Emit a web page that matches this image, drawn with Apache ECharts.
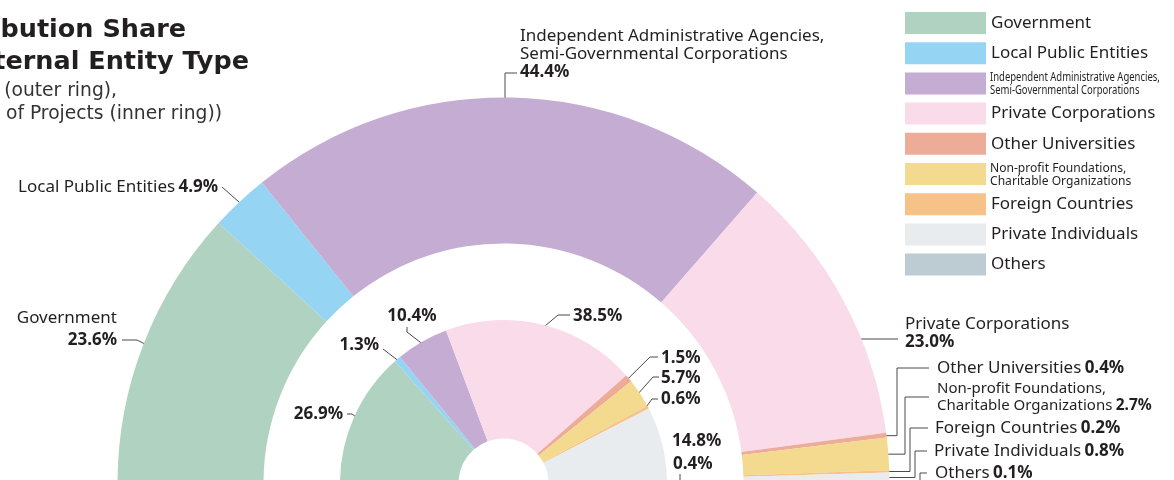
<!DOCTYPE html>
<html>
<head>
<meta charset="utf-8">
<script src="https://cdn.jsdelivr.net/npm/echarts@6/dist/echarts.min.js"></script>
<style>
html, body { margin: 0; padding: 0; background: #fff; }
#main { width: 1174px; height: 480px; }
</style>
</head>
<body>
<div id="main"></div>
<script>
var categories = [
    'Government',
    'Local Public Entities',
    'Independent Administrative Agencies, Semi-Governmental Corporations',
    'Private Corporations',
    'Other Universities',
    'Non-profit Foundations, Charitable Organizations',
    'Foreign Countries',
    'Private Individuals',
    'Others'
];
// share of amount (outer ring), %
var amountShare = [23.6, 4.9, 44.4, 23.0, 0.4, 2.7, 0.2, 0.8, 0.1];
// share of number of projects (inner ring), %
var projectShare = [26.9, 1.3, 10.4, 38.5, 1.5, 5.7, 0.6, 14.8, 0.4];

var colors = ['#b0d2c0', '#96d4f4', '#c5acd2', '#f9dbe9', '#ecac98', '#f4da8f', '#f7c287', '#e8ecef', '#bdcbd2'];

var FONT = 'Noto Sans';
var INK = '#231f20';
var CENTER = [503.5, 483.5];

// label boxes and leader bends, screen px
var outerSpots = [
    { x: 117, y: 331, align: 'right', wrap: true, loose: true, path: [[137, 340], [122, 340]] },
    { x: 218, y: 187, align: 'right', path: [[222, 187]] },
    { x: 520, y: 54, align: 'left', wrap: true, vert: 505, path: [[505, 73], [517, 73]] },
    { x: 905, y: 333, align: 'left', wrap: true, flat: 339, path: [[898, 339]] },
    { x: 937, y: 368, align: 'left', elbow: 897, path: [[897, 368], [929, 368]] },
    { x: 937, y: 397, align: 'left', small: true, elbow: 905, path: [[905, 397], [929, 397]] },
    { x: 935, y: 428, align: 'left', elbow: 910, path: [[910, 428], [928, 428]] },
    { x: 934, y: 451, align: 'left', elbow: 915, path: [[915, 451], [927, 451]] },
    { x: 935, y: 473, align: 'left', elbow: 920, path: [[920, 473], [927, 473]] }
];
var innerSpots = [
    { x: 343, y: 414, align: 'right', path: [[352, 414], [347, 414]] },
    { x: 379, y: 345, align: 'right', path: [[383, 349]] },
    { x: 412, y: 316, align: 'center', path: [[407, 332], [407, 327]] },
    { x: 573, y: 316, align: 'left', path: [[558, 315], [570, 315]] },
    { x: 661, y: 358, align: 'left', path: [[650, 357], [658, 357]] },
    { x: 661, y: 378, align: 'left', path: [[653, 377], [659, 377]] },
    { x: 661, y: 399, align: 'left', path: [[652, 399], [658, 399]] },
    { x: 672, y: 441, align: 'left', none: true },
    { x: 673, y: 464, align: 'left', path: [[680, 490], [680, 474]] }
];
// legend names that are set in a squeezed face, drawn beside the legend swatch
var squeezed = {
    'Independent Administrative Agencies, Semi-Governmental Corporations': { y: 84, sx: 0.73 },
    'Non-profit Foundations, Charitable Organizations': { y: 175, sx: 0.93 }
};

function leader(spots, inset) {
    return function (params) {
        var s = spots[params.dataIndex];
        var edge = params.labelLinePoints[0];
        var dx = edge[0] - CENTER[0], dy = edge[1] - CENTER[1];
        var r = Math.sqrt(dx * dx + dy * dy);
        var rr = r - inset;
        var a = [CENTER[0] + dx * rr / r, CENTER[1] + dy * rr / r];
        if (s.flat != null) {
            var h = CENTER[1] - s.flat;
            a = [CENTER[0] + Math.sqrt(rr * rr - h * h), s.flat];
        }
        if (s.vert != null) {
            var w = s.vert - CENTER[0];
            a = [s.vert, CENTER[1] - Math.sqrt(rr * rr - w * w)];
        }
        var pts = [a];
        if (s.elbow != null) pts.push([s.elbow, a[1]]);
        if (!s.none) (s.path || []).forEach(function (p) { pts.push(p); });
        if (pts.length < 2) pts.push(a.slice());
        return {
            x: s.x, y: s.y, align: s.align, verticalAlign: 'middle',
            labelLinePoints: pts
        };
    };
}

function pct(v) { return v.toFixed(1) + '%'; }

var rich = {
    n: { fontFamily: FONT, fontSize: 17, color: INK, lineHeight: 18 },
    p: { fontFamily: FONT, fontSize: 17, fontWeight: 'bold', color: INK, lineHeight: 18 },
    pw: { fontFamily: FONT, fontSize: 17, fontWeight: 'bold', color: INK, lineHeight: 26 },
    ns: { fontFamily: FONT, fontSize: 15, color: INK, lineHeight: 17 },
    ps: { fontFamily: FONT, fontSize: 15.5, fontWeight: 'bold', color: INK, lineHeight: 17 }
};

function buildData(values) {
    return categories.map(function (name, i) {
        return { name: name, value: values[i], itemStyle: { color: colors[i] } };
    });
}

var graphics = [
    { type: 'text', x: 186, y: 30, style: { text: 'Contribution Share', align: 'right', verticalAlign: 'middle', fontFamily: 'DejaVu Sans', fontSize: 25.5, fontWeight: 'bold', fill: INK } },
    { type: 'text', x: 249, y: 62, style: { text: 'by External Entity Type', align: 'right', verticalAlign: 'middle', fontFamily: 'DejaVu Sans', fontSize: 25.5, fontWeight: 'bold', fill: INK } },
    { type: 'text', x: 117, y: 91, style: { text: '(Amount (outer ring),', align: 'right', verticalAlign: 'middle', fontFamily: 'DejaVu Sans', fontSize: 18.7, fill: '#333' } },
    { type: 'text', x: 222, y: 114, style: { text: 'Number of Projects (inner ring))', align: 'right', verticalAlign: 'middle', fontFamily: 'DejaVu Sans', fontSize: 18.7, fill: '#333' } }
];
Object.keys(squeezed).forEach(function (name) {
    var q = squeezed[name];
    graphics.push({
        type: 'text', x: 990, y: q.y, scaleX: q.sx, scaleY: 1,
        style: { text: name.replace(', ', ',\n'), align: 'left', verticalAlign: 'middle', fontFamily: FONT, fontSize: 13, lineHeight: 13, fill: INK }
    });
});

var myChart = echarts.init(document.getElementById('main'), null, { renderer: 'canvas' });

var option = {
    animation: false,
    legend: {
        orient: 'vertical',
        left: 905,
        top: 12,
        padding: 0,
        itemWidth: 81,
        itemHeight: 22,
        itemGap: 8.2,
        icon: 'rect',
        selectedMode: false,
        data: categories,
        textStyle: { fontFamily: FONT, fontSize: 17, color: INK, padding: [3, 0, 0, 0] },
        formatter: function (name) {
            return squeezed[name] ? ' ' : name;
        }
    },
    graphic: graphics,
    series: [
        {
            name: 'Amount',
            type: 'pie',
            center: CENTER,
            radius: [240, 386],
            startAngle: 180,
            endAngle: 0,
            avoidLabelOverlap: false,
            silent: true,
            data: buildData(amountShare),
            label: {
                show: true,
                position: 'outside',
                overflow: 'none',
                color: INK,
                rich: rich,
                formatter: function (p) {
                    var s = outerSpots[p.dataIndex];
                    var name = p.name.replace(', ', ',\n');
                    var n = s.small ? 'ns' : 'n';
                    var v = s.small ? 'ps' : (s.loose ? 'pw' : 'p');
                    return '{' + n + '|' + name + '}' + (s.wrap ? '\n' : ' ') + '{' + v + '|' + pct(p.value) + '}';
                }
            },
            labelLine: { show: true, length: 5, length2: 5, smooth: false, lineStyle: { color: '#4a4a4a', width: 1 } },
            labelLayout: leader(outerSpots, 4)
        },
        {
            name: 'Projects',
            type: 'pie',
            center: CENTER,
            radius: [45, 163.5],
            startAngle: 180,
            endAngle: 0,
            avoidLabelOverlap: false,
            silent: true,
            data: buildData(projectShare),
            label: {
                show: true,
                position: 'outside',
                overflow: 'none',
                color: INK,
                rich: rich,
                formatter: function (p) { return '{p|' + pct(p.value) + '}'; }
            },
            labelLine: { show: true, length: 5, length2: 5, smooth: false, lineStyle: { color: '#4a4a4a', width: 1 } },
            labelLayout: leader(innerSpots, 3.5)
        }
    ]
};

myChart.setOption(option);
</script>
</body>
</html>
